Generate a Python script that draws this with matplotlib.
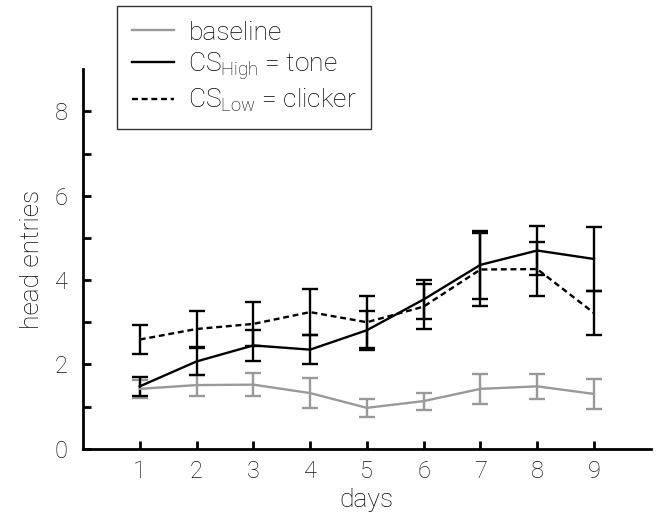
import matplotlib
matplotlib.use("Agg")
import matplotlib.pyplot as plt

plt.rcParams["font.family"] = ["Roboto", "DejaVu Sans"]
plt.rcParams["font.weight"] = "light"
plt.rcParams["axes.labelweight"] = "light"
plt.rcParams["mathtext.fontset"] = "custom"
plt.rcParams["mathtext.rm"] = "Roboto:light"
plt.rcParams["mathtext.it"] = "Roboto:light"

# Mean head entries per day with error bars
days = [1, 2, 3, 4, 5, 6, 7, 8, 9]

baseline = [1.42, 1.51, 1.52, 1.32, 0.97, 1.13, 1.42, 1.48, 1.30]
baseline_err = [0.21, 0.25, 0.27, 0.35, 0.21, 0.20, 0.36, 0.30, 0.36]

cs_high = [1.48, 2.07, 2.45, 2.35, 2.81, 3.54, 4.36, 4.70, 4.50]
cs_high_err = [0.22, 0.32, 0.37, 0.35, 0.46, 0.47, 0.80, 0.58, 0.75]

cs_low = [2.59, 2.84, 2.96, 3.24, 3.00, 3.37, 4.25, 4.26, 3.22]
cs_low_err = [0.35, 0.43, 0.52, 0.54, 0.61, 0.54, 0.87, 0.65, 0.53]

labels = ["baseline", r"CS$_{\mathrm{High}}$ = tone", r"CS$_{\mathrm{Low}}$ = clicker"]

fig = plt.figure(figsize=(6.64, 5.2), dpi=100)
ax = fig.add_axes([0.125, 0.137, 0.855, 0.73])

gray = "#999999"
eb = dict(capsize=6, capthick=1.7, elinewidth=1.7, lw=1.7)

ax.errorbar(days, baseline, yerr=baseline_err, color=gray, label=labels[0], **eb)
ax.errorbar(days, cs_high, yerr=cs_high_err, color="black", label=labels[1], **eb)
ax.errorbar(days, cs_low, yerr=cs_low_err, color="black", ls=(0, (2.5, 1.6)),
            label=labels[2], **eb)

ax.set_xlim(0, 10)
ax.set_ylim(0, 9)
ax.set_xticks(days)
ax.set_yticks([0, 2, 4, 6, 8])
ax.set_yticks([1, 3, 5, 7], minor=True)
ax.tick_params(axis="both", which="both", direction="in", length=6, width=2,
               labelsize=17, labelcolor="#111111")
ax.tick_params(axis="y", which="both", pad=11)
ax.tick_params(axis="x", which="both", pad=8)
ax.tick_params(axis="x", which="minor", bottom=False)

for side in ["top", "right"]:
    ax.spines[side].set_visible(False)
for side in ["left", "bottom"]:
    ax.spines[side].set_linewidth(2)

ax.set_xlabel("days", fontsize=19, labelpad=4)
ax.set_ylabel("head entries", fontsize=19, labelpad=8)

# Legend lines without the error bar glyphs
handles, _ = ax.get_legend_handles_labels()
handles = [h[0] for h in handles]
leg = ax.legend(handles, labels, loc="upper left", bbox_to_anchor=(0.06, 1.166),
                borderaxespad=0, fontsize=19, frameon=True, fancybox=False,
                handlelength=1.6, handletextpad=0.55, labelspacing=0.2,
                borderpad=0.55)
leg.get_frame().set_edgecolor("black")
leg.get_frame().set_linewidth(1)

fig.savefig("out.png", dpi=100)
